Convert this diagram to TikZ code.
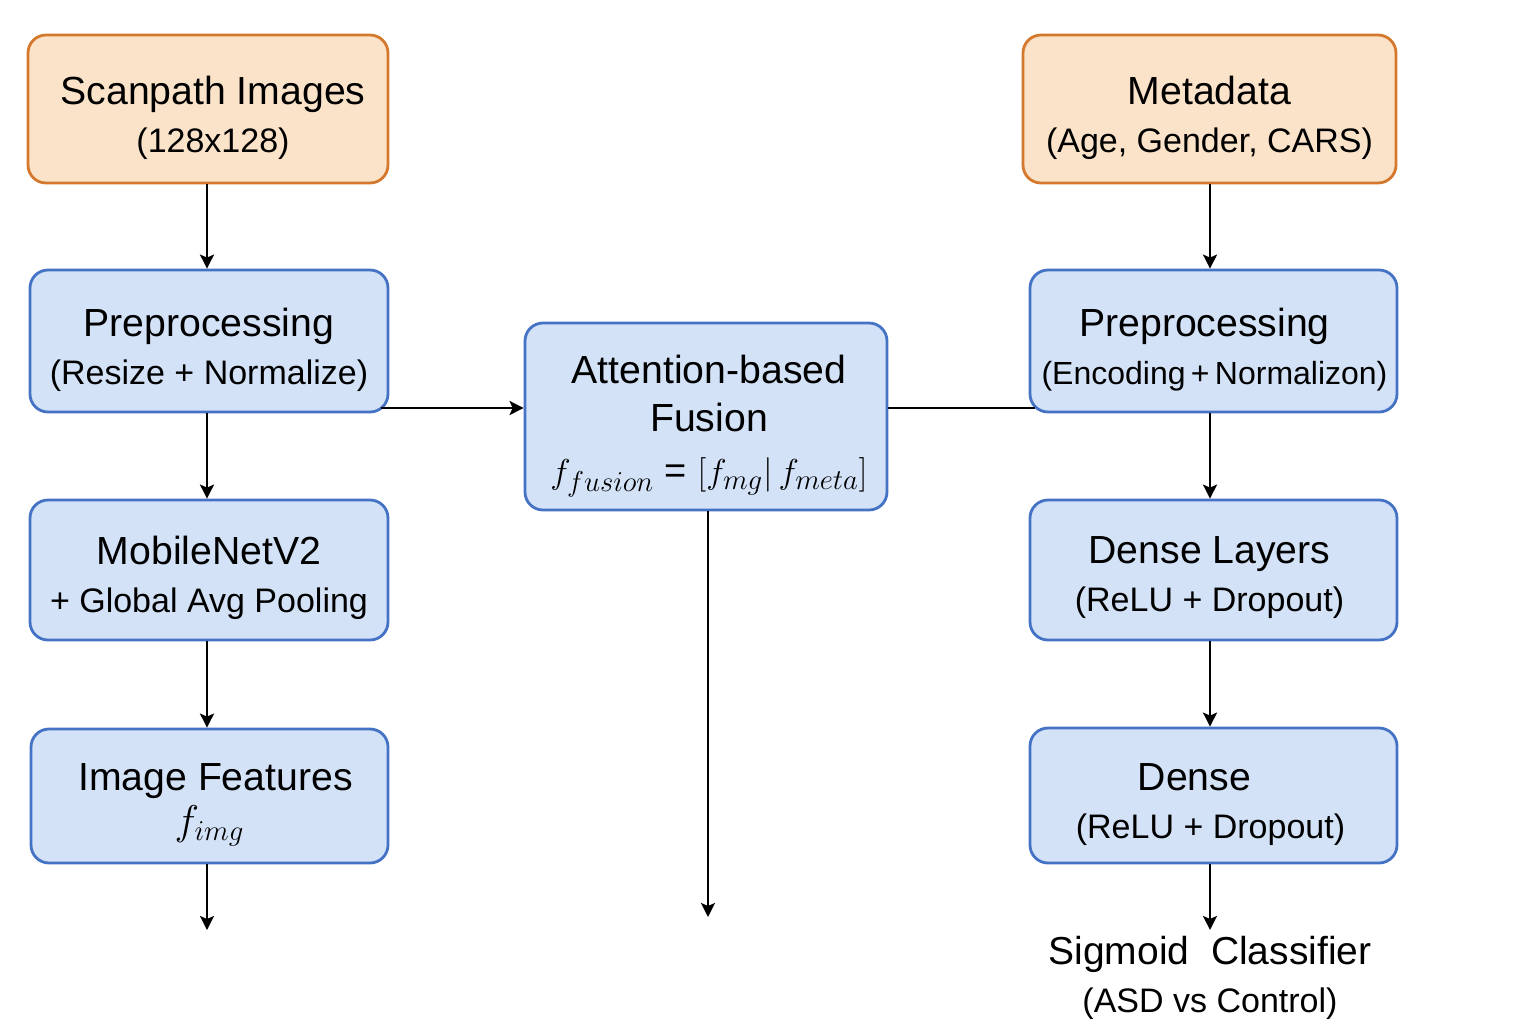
\documentclass[tikz,border=0pt]{standalone}
\usepackage{fontspec}
\setmainfont{Liberation Sans}
\usetikzlibrary{arrows.meta,calc}
\definecolor{bfill}{HTML}{D3E2F7}
\definecolor{bdraw}{HTML}{4472C4}
\definecolor{ofill}{HTML}{FBE3C9}
\definecolor{odraw}{HTML}{D4782E}
\newcommand{\tf}{\fontsize{19.6}{24}\selectfont}
\newcommand{\sbf}{\fontsize{17}{24}\selectfont}
\begin{document}
\begin{tikzpicture}[x=0.5pt,y=-0.5pt,
  bluebox/.style={draw=bdraw,fill=bfill,line width=1.4pt,rounded corners=9pt,inner sep=0pt},
  orbox/.style={draw=odraw,fill=ofill,line width=1.4pt,rounded corners=9pt,inner sep=0pt},
  txt/.style={align=center,inner sep=0pt,font=\tf},
  arr/.style={-{Stealth[length=7pt,width=7pt,inset=1.5pt]},line width=1.2pt},
  ln/.style={line width=1.2pt}]
\useasboundingbox (0,0) rectangle (1536,1024);
\fill[white] (0,0) rectangle (1536,1024);
% left column
\node[orbox,minimum width=180pt,minimum height=74pt] (scan) at (208,109) {};
\node[txt] (scant) at ($(scan)+(5,9)$) {Scanpath Images\\{\sbf (128x128)}};
\node[bluebox,minimum width=179pt,minimum height=71pt] (prepL) at (209,341) {};
\node[txt] (prepLt) at ($(prepL)+(0,9)$) {Preprocessing\\{\sbf (Resize + Normalize)}};
\node[bluebox,minimum width=179pt,minimum height=70pt] (mob) at (209,570) {};
\node[txt] (mobt) at ($(mob)+(0,8)$) {MobileNetV2\\{\sbf + Global Avg Pooling}};
\node[bluebox,minimum width=178.5pt,minimum height=67pt] (imgf) at (209.5,796) {};
\node[txt] (imgft) at ($(imgf)+(0,9)$) {\hspace{6pt}Image Features\\[-2pt]{\fontsize{20}{24}\selectfont$f_{img}$}\hspace{5pt}};
% fusion
\node[bluebox,minimum width=181pt,minimum height=93.5pt] (fus) at (706,416.5) {};
\node[txt] (fust) at ($(fus)+(3,10)$) {Attention-based\\Fusion\\[2pt]{\fontsize{19}{24}\selectfont$f_{fusion}\mbox{ = }[f_{mg}|\,f_{meta}]$}};
% right column
\node[orbox,minimum width=186.5pt,minimum height=74pt] (meta) at (1209.5,109) {};
\node[txt] (metat) at ($(meta)+(0,9)$) {Metadata\\{\sbf (Age, Gender, CARS)}};
\node[bluebox,minimum width=183.5pt,minimum height=71pt] (prepR) at (1213.5,341) {};
\node[txt] (prepRt) at ($(prepR)+(1,9)$) {\hspace{-10pt}Preprocessing\\{\fontsize{16}{24}\selectfont (Encoding\,+\,Normalizon)}};
\node[bluebox,minimum width=183.5pt,minimum height=70pt] (denseL) at (1213.5,570) {};
\node[txt] (denseLt) at ($(denseL)+(-4,8)$) {Dense Layers\\{\sbf (ReLU + Dropout)}};
\node[bluebox,minimum width=183.5pt,minimum height=67.5pt] (dense) at (1213.5,795.5) {};
\node[txt] (denset) at ($(dense)+(-3,9)$) {\hspace{-16pt}Dense\\{\sbf (ReLU + Dropout)}};
\node[txt,font=\fontsize{19.5}{24}\selectfont] (sig) at (1210,978) {Sigmoid\ \ Classifier\\{\sbf (ASD vs Control)}};
% coordinates
\coordinate (h) at (0,408);
\coordinate (imgend) at (207,930);
\coordinate (fusend) at (708,917);
% connectors
\draw[arr] (scan.south -| 207,0) -- (prepL.north -| 207,0);
\draw[arr] (prepL.south -| 207,0) -- (mob.north -| 207,0);
\draw[arr] (mob.south -| 207,0) -- (imgf.north -| 207,0);
\draw[arr] (imgf.south -| imgend) -- (imgend);
\draw[arr] ($(prepL.east |- h)+(-8,0)$) -- (fus.west |- h);
\draw[ln] (fus.east |- h) -- ($(prepR.west |- h)+(6,0)$);
\draw[arr] (fus.south -| fusend) -- (fusend);
\draw[arr] (meta.south -| 1210,0) -- (prepR.north -| 1210,0);
\draw[arr] (prepR.south -| 1210,0) -- (denseL.north -| 1210,0);
\draw[arr] (denseL.south -| 1210,0) -- (dense.north -| 1210,0);
\draw[arr] (dense.south -| 1210,0) -- ($(sig.north -| 1210,0)+(0,-6)$);
\end{tikzpicture}
\end{document}
